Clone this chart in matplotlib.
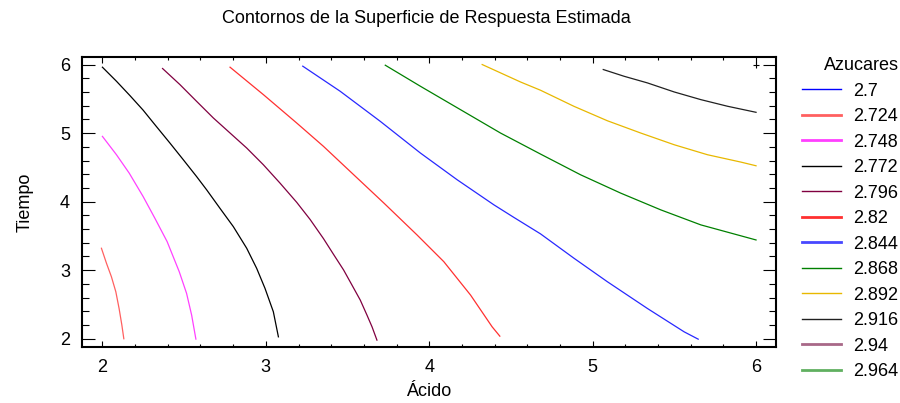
import numpy as np
import matplotlib
matplotlib.use('Agg')
import matplotlib.pyplot as plt
from matplotlib.ticker import MultipleLocator

plt.rcParams['font.family'] = ['Liberation Sans', 'DejaVu Sans']

# niveles de la leyenda
niveles = ['2.7', '2.724', '2.748', '2.772', '2.796', '2.82',
           '2.844', '2.868', '2.892', '2.916', '2.94', '2.964']
colores = ['#0000ff', '#ff6060', '#ff40ff', '#000000', '#800040', '#ff3030',
           '#4848ff', '#008000', '#e8b800', '#202020', '#a86888', '#60b060']
# color de las curvas dibujadas (la azul sale mas saturada que en la leyenda)
colores_curva = {'2.844': '#2828ff'}

# contornos (acido, tiempo)
acido_2724 = [1.994, 2.025, 2.055, 2.082, 2.102, 2.119, 2.131]
tiempo_2724 = [3.32, 3.10, 2.905, 2.686, 2.442, 2.199, 2.0]

acido_2748 = [2.0, 2.086, 2.164, 2.249, 2.321, 2.396, 2.470, 2.515, 2.546, 2.572]
tiempo_2748 = [4.952, 4.684, 4.416, 4.075, 3.758, 3.417, 2.979, 2.662, 2.345, 1.995]

acido_2772 = [2.0, 2.086, 2.168, 2.249, 2.321, 2.413, 2.495, 2.576, 2.638, 2.719,
              2.801, 2.883, 2.944, 2.995, 3.046, 3.077]
tiempo_2772 = [5.961, 5.756, 5.548, 5.335, 5.123, 4.855, 4.611, 4.367, 4.172, 3.904,
               3.636, 3.320, 3.027, 2.735, 2.394, 2.028]

acido_2796 = [2.368, 2.474, 2.576, 2.679, 2.781, 2.883, 2.985, 3.087, 3.189, 3.271,
              3.353, 3.414, 3.476, 3.527, 3.578, 3.619, 3.650, 3.680]
tiempo_2796 = [5.942, 5.708, 5.464, 5.220, 5.001, 4.782, 4.538, 4.270, 3.99, 3.74,
               3.46, 3.232, 3.003, 2.784, 2.564, 2.345, 2.174, 1.98]

acido_282 = [2.781, 2.985, 3.189, 3.353, 3.516, 3.723, 3.925, 4.089, 4.253, 4.385, 4.432]
tiempo_282 = [5.961, 5.561, 5.147, 4.806, 4.441, 3.978, 3.515, 3.125, 2.637, 2.174, 2.038]

acido_2844 = [3.226, 3.455, 3.700, 3.946, 4.171, 4.396, 4.518, 4.681, 4.886, 5.090,
              5.335, 5.560, 5.646]
tiempo_2844 = [5.976, 5.610, 5.172, 4.709, 4.319, 3.953, 3.77, 3.53, 3.174, 2.832,
               2.442, 2.101, 1.994]

acido_2868 = [3.731, 3.946, 4.191, 4.436, 4.681, 4.926, 5.172, 5.417, 5.662, 6.0]
tiempo_2868 = [5.990, 5.683, 5.342, 5.001, 4.694, 4.392, 4.124, 3.880, 3.661, 3.441]

acido_2892 = [4.324, 4.559, 4.681, 4.886, 5.090, 5.294, 5.499, 5.703, 5.907, 6.0]
tiempo_2892 = [6.0, 5.745, 5.625, 5.39, 5.18, 5.001, 4.830, 4.684, 4.577, 4.523]

acido_2916 = [5.065, 5.192, 5.335, 5.499, 5.662, 5.826, 6.0]
tiempo_2916 = [5.927, 5.829, 5.732, 5.600, 5.488, 5.391, 5.303]

curvas = {
    '2.724': (acido_2724, tiempo_2724),
    '2.748': (acido_2748, tiempo_2748),
    '2.772': (acido_2772, tiempo_2772),
    '2.796': (acido_2796, tiempo_2796),
    '2.82': (acido_282, tiempo_282),
    '2.844': (acido_2844, tiempo_2844),
    '2.868': (acido_2868, tiempo_2868),
    '2.892': (acido_2892, tiempo_2892),
    '2.916': (acido_2916, tiempo_2916),
}

fig = plt.figure(figsize=(9, 4.03), dpi=100)
ax = fig.add_axes([0.0911, 0.139, 0.7711, 0.7196])

for i, niv in enumerate(niveles):
    c = colores[i]
    if niv in curvas:
        x, y = curvas[niv]
        ax.plot(x, y, color=colores_curva.get(niv, c), lw=0.9)
    # entrada de leyenda
    lw = 2.0 if c in ('#ff6060', '#ff40ff', '#ff3030', '#4848ff', '#a86888', '#60b060') else 1.0
    ax.plot([], [], color=c, lw=lw, label=niv)

ax.plot(6, 6, '+', color='black', ms=4, mew=0.8)

ax.set_xlim(1.875, 6.122)
ax.set_ylim(1.88, 6.11)
ax.xaxis.set_major_locator(MultipleLocator(1))
ax.xaxis.set_minor_locator(MultipleLocator(0.2))
ax.yaxis.set_major_locator(MultipleLocator(1))
ax.yaxis.set_minor_locator(MultipleLocator(0.2))

ax.tick_params(axis='both', which='both', direction='in', top=True, right=True,
               labelsize=13, pad=8.6, width=0.8)
ax.tick_params(axis='x', which='major', length=4.3)
ax.tick_params(axis='x', which='minor', length=2.2)
ax.tick_params(axis='y', which='major', length=9.1)
ax.tick_params(axis='y', which='minor', length=5.3)
for s in ax.spines.values():
    s.set_linewidth(1.5)

ax.set_xlabel('Ácido', fontsize=13, labelpad=5)
ax.set_ylabel('Tiempo', fontsize=13, labelpad=19)
fig.text(0.474, 0.955, 'Contornos de la Superficie de Respuesta Estimada',
         ha='center', va='center', fontsize=13)

ax.legend(title='Azucares', loc='upper left', bbox_to_anchor=(1.0267, 1.024),
          frameon=False, fontsize=13, title_fontsize=13, alignment='right',
          handlelength=2.16, handletextpad=0.7, labelspacing=0.47,
          borderaxespad=0)

plt.savefig('out.png', dpi=100)
